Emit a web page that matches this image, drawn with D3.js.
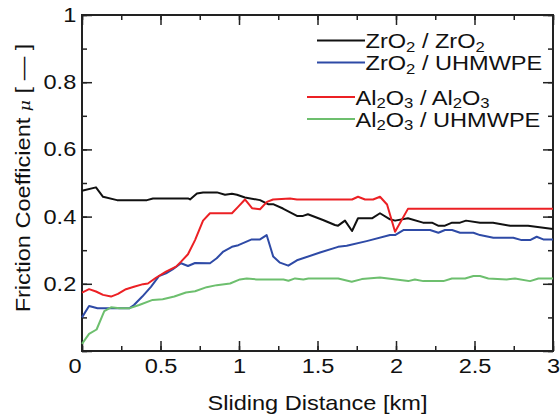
<!DOCTYPE html>
<html>
<head>
<meta charset="utf-8">
<script src="https://cdn.jsdelivr.net/npm/d3@7"></script>
<style>
  body { margin: 0; background: white; }
  svg { display: block; font-family: "Liberation Sans", Arial, sans-serif; }
</style>
</head>
<body>
<main></main>
<script>
// friction coefficient vs sliding distance
const zrZrX = [0, 0.089, 0.134, 0.223, 0.414, 0.452, 0.675, 0.688, 0.732, 0.771, 0.86, 0.911, 0.955, 0.987, 1.038, 1.134, 1.185, 1.217, 1.28, 1.369, 1.408, 1.439, 1.535, 1.611, 1.631, 1.675, 1.72, 1.758, 1.847, 1.898, 1.962, 1.994, 2.076, 2.172, 2.229, 2.268, 2.312, 2.357, 2.408, 2.446, 2.535, 2.618, 2.726, 2.841, 3.0]
const zrZrY = [0.477, 0.487, 0.459, 0.449, 0.449, 0.454, 0.454, 0.451, 0.469, 0.472, 0.472, 0.465, 0.468, 0.465, 0.457, 0.449, 0.437, 0.437, 0.424, 0.402, 0.402, 0.407, 0.39, 0.375, 0.373, 0.388, 0.357, 0.395, 0.395, 0.41, 0.392, 0.388, 0.395, 0.382, 0.382, 0.373, 0.373, 0.382, 0.382, 0.388, 0.382, 0.382, 0.373, 0.373, 0.363]

const zrPeX = [0, 0.045, 0.099, 0.301, 0.331, 0.384, 0.439, 0.49, 0.535, 0.577, 0.631, 0.675, 0.72, 0.815, 0.858, 0.9, 0.955, 0.996, 1.081, 1.134, 1.176, 1.218, 1.261, 1.314, 1.369, 1.516, 1.631, 1.686, 1.813, 1.962, 1.994, 2.047, 2.217, 2.27, 2.312, 2.357, 2.408, 2.493, 2.535, 2.62, 2.747, 2.8, 2.854, 2.896, 2.938, 3.0]
const zrPeY = [0.1, 0.134, 0.127, 0.127, 0.137, 0.162, 0.191, 0.223, 0.231, 0.243, 0.261, 0.253, 0.262, 0.261, 0.276, 0.296, 0.31, 0.315, 0.332, 0.332, 0.345, 0.281, 0.263, 0.254, 0.27, 0.293, 0.31, 0.313, 0.327, 0.345, 0.345, 0.36, 0.36, 0.352, 0.36, 0.36, 0.352, 0.352, 0.345, 0.337, 0.337, 0.33, 0.33, 0.34, 0.332, 0.332]

const alAlX = [0, 0.045, 0.089, 0.134, 0.185, 0.229, 0.28, 0.331, 0.389, 0.42, 0.471, 0.535, 0.599, 0.631, 0.675, 0.72, 0.771, 0.815, 0.955, 0.994, 1.038, 1.083, 1.134, 1.178, 1.217, 1.325, 1.369, 1.72, 1.758, 1.803, 1.854, 1.898, 1.943, 1.994, 2.076, 3.0]
const alAlY = [0.174, 0.184, 0.177, 0.167, 0.162, 0.17, 0.184, 0.191, 0.199, 0.201, 0.218, 0.236, 0.251, 0.266, 0.288, 0.33, 0.388, 0.41, 0.41, 0.429, 0.451, 0.425, 0.422, 0.444, 0.451, 0.454, 0.451, 0.451, 0.459, 0.451, 0.451, 0.459, 0.436, 0.355, 0.423, 0.423]

const alPeX = [0, 0.045, 0.093, 0.142, 0.185, 0.239, 0.3, 0.364, 0.45, 0.514, 0.588, 0.662, 0.72, 0.794, 0.858, 0.943, 1.006, 1.049, 1.113, 1.283, 1.315, 1.357, 1.41, 1.442, 1.632, 1.718, 1.782, 1.898, 2.078, 2.12, 2.174, 2.302, 2.356, 2.44, 2.493, 2.535, 2.588, 2.705, 2.758, 2.854, 2.907, 3.0]
const alPeY = [0.021, 0.051, 0.064, 0.119, 0.13, 0.127, 0.127, 0.137, 0.152, 0.154, 0.162, 0.174, 0.178, 0.19, 0.196, 0.201, 0.213, 0.216, 0.213, 0.213, 0.209, 0.216, 0.213, 0.216, 0.216, 0.206, 0.214, 0.219, 0.208, 0.213, 0.208, 0.208, 0.216, 0.216, 0.223, 0.223, 0.216, 0.213, 0.216, 0.208, 0.216, 0.216]

const xTicks = [0, 0.5, 1, 1.5, 2, 2.5, 3]
const xTickLabels = ["0", "0.5", "1", "1.5", "2", "2.5", "3"]
const yTicks = [0, 0.2, 0.4, 0.6, 0.8, 1]
const yTickLabels = ["", "0.2", "0.4", "0.6", "0.8", "1"]

const series = [
  {xs: zrZrX, ys: zrZrY, color: "#111111", a: "ZrO", as: "2", b: "ZrO", bs: "2"},
  {xs: zrPeX, ys: zrPeY, color: "#2e4aa6", a: "ZrO", as: "2", b: "UHMWPE", bs: ""},
  {xs: alAlX, ys: alAlY, color: "#ec2024", a: "Al", as: "2", a2: "O", as2: "3", b: "Al", bs: "2", b2: "O", bs2: "3"},
  {xs: alPeX, ys: alPeY, color: "#6dbf6e", a: "Al", as: "2", a2: "O", as2: "3", b: "UHMWPE", bs: ""}
]

//set dimensions
const svgWidth = 560
const svgHeight = 417
const plotLeft = 82, plotRight = 553, plotTop = 15, plotBottom = 351
const fs = 20.5      // font size
const stretch = "scale(1.15,1)"   // the original lettering is a bit wide

let svg = d3.select("main")
  .append("svg")
  .attr("width", svgWidth)
  .attr("height", svgHeight)

let xScale = d3.scaleLinear().domain([0, 3]).range([plotLeft, plotRight])
let yScale = d3.scaleLinear().domain([0, 1]).range([plotBottom, plotTop])

const axisColor = "#222"

// minor + major ticks, all pointing inward, on all four sides
function styleAxis(g) {
  g.select(".domain").remove()
  g.selectAll("line").attr("stroke", axisColor).attr("stroke-width", 1.5)
  g.selectAll("text").attr("font-size", fs).attr("fill", "#111").attr("transform", stretch)
}

let minorX = d3.range(0, 3.01, 0.25)
let minorY = d3.range(0, 1.01, 0.1)

svg.append("g")
  .attr("transform", `translate(0, ${plotBottom})`)
  .call(d3.axisBottom(xScale).tickValues(minorX).tickSize(-5).tickFormat(""))
  .call(styleAxis)
let xAxis = svg.append("g")
  .attr("transform", `translate(0, ${plotBottom})`)
  .call(d3.axisBottom(xScale).tickValues(xTicks).tickSize(-10).tickPadding(7)
    .tickFormat((d, i) => xTickLabels[i]))
  .call(styleAxis)
// the "0" label sits a little left of the corner
xAxis.selectAll("text").filter(d => d === 0).attr("x", -6.5)

svg.append("g")
  .attr("transform", `translate(0, ${plotTop})`)
  .call(d3.axisTop(xScale).tickValues(minorX).tickSize(-5).tickFormat(""))
  .call(styleAxis)
svg.append("g")
  .attr("transform", `translate(0, ${plotTop})`)
  .call(d3.axisTop(xScale).tickValues(xTicks).tickSize(-10).tickFormat(""))
  .call(styleAxis)

svg.append("g")
  .attr("transform", `translate(${plotLeft}, 0)`)
  .call(d3.axisLeft(yScale).tickValues(minorY).tickSize(-5).tickFormat(""))
  .call(styleAxis)
svg.append("g")
  .attr("transform", `translate(${plotLeft}, 0)`)
  .call(d3.axisLeft(yScale).tickValues(yTicks).tickSize(-10).tickPadding(5)
    .tickFormat((d, i) => yTickLabels[i]))
  .call(styleAxis)
svg.append("g")
  .attr("transform", `translate(${plotRight}, 0)`)
  .call(d3.axisRight(yScale).tickValues(minorY).tickSize(-5).tickFormat(""))
  .call(styleAxis)
svg.append("g")
  .attr("transform", `translate(${plotRight}, 0)`)
  .call(d3.axisRight(yScale).tickValues(yTicks).tickSize(-10).tickFormat(""))
  .call(styleAxis)

// frame
svg.append("rect")
  .attr("x", plotLeft).attr("y", plotTop)
  .attr("width", plotRight - plotLeft).attr("height", plotBottom - plotTop)
  .attr("fill", "none")
  .attr("stroke", axisColor)
  .attr("stroke-width", 2)

// lines
let line = d3.line()
  .x(d => xScale(d[0]))
  .y(d => yScale(d[1]))

series.forEach(s => {
  svg.append("path")
    .datum(s.xs.map((x, i) => [x, s.ys[i]]))
    .attr("d", line)
    .attr("fill", "none")
    .attr("stroke", s.color)
    .attr("stroke-width", 2)
    .attr("stroke-linejoin", "round")
})

// legend
const legendRows = [
  {lx1: 317, lx2: 365, y: 40.5},
  {lx1: 317, lx2: 365, y: 62.5},
  {lx1: 307, lx2: 355, y: 97},
  {lx1: 307, lx2: 355, y: 119}
]

series.forEach((s, i) => {
  let r = legendRows[i]
  svg.append("line")
    .attr("x1", r.lx1).attr("x2", r.lx2)
    .attr("y1", r.y).attr("y2", r.y)
    .attr("stroke", s.color)
    .attr("stroke-width", 2)
  let t = svg.append("text")
    .attr("transform", `translate(${r.lx2 + 0.5}, ${r.y + 7.5}) ${stretch}`)
    .attr("font-size", fs)
    .attr("fill", "#111")
  let parts = [[s.a, 0], [s.as, 1]]
  if (s.a2) parts.push([s.a2, 0], [s.as2, 1])
  parts.push([" / " + s.b, 0])
  if (s.bs) parts.push([s.bs, 1])
  if (s.b2) parts.push([s.b2, 0], [s.bs2, 1])
  parts.forEach(p => {
    if (!p[0]) return
    t.append("tspan")
      .attr("font-size", p[1] ? 14.5 : fs)
      .attr("baseline-shift", p[1] ? "-25%" : null)
      .text(p[0])
  })
})

// axis titles
svg.append("text")
  .attr("transform", `translate(${(plotLeft + plotRight) / 2}, 410) ${stretch}`)
  .attr("text-anchor", "middle")
  .attr("font-size", fs)
  .attr("fill", "#111")
  .text("Sliding Distance [km]")

let yl = svg.append("text")
  .attr("transform", `translate(30, 178) rotate(-90) ${stretch}`)
  .attr("text-anchor", "middle")
  .attr("font-size", fs)
  .attr("fill", "#111")
yl.append("tspan").text("Friction Coefficient ")
yl.append("tspan").attr("font-style", "italic").attr("font-family", "DejaVu Serif").attr("font-size", 15).text("μ")
yl.append("tspan").text("  [ — ]")
</script>
</body>
</html>
